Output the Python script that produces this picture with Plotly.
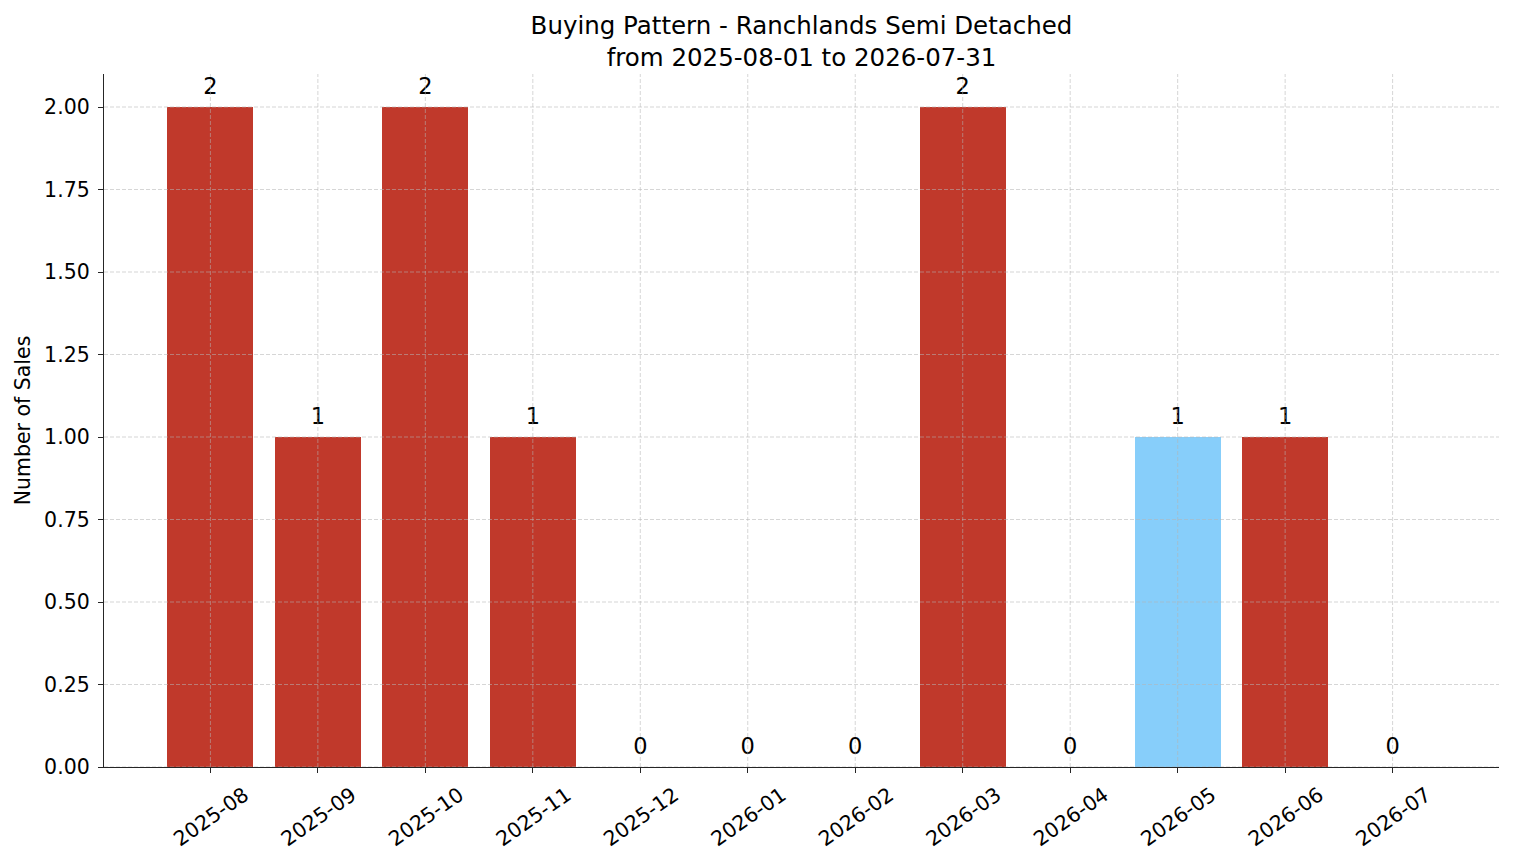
import plotly.graph_objects as go

# monthly sales data
months = ['2025-08', '2025-09', '2025-10', '2025-11', '2025-12', '2026-01',
          '2026-02', '2026-03', '2026-04', '2026-05', '2026-06', '2026-07']
sales = [2, 1, 2, 1, 0, 0, 0, 2, 0, 1, 1, 0]
highlight_month = '2026-05'
y_ticks = [0, 0.25, 0.5, 0.75, 1.0, 1.25, 1.5, 1.75, 2.0]

RED = '#c0392b'
BLUE = '#87cefa'
FONT = 'DejaVu Sans'

# Hide modebar
config = {'displayModeBar': False}

colors = [BLUE if m == highlight_month else RED for m in months]
idx = list(range(len(months)))

fig = go.Figure()
fig.add_trace(go.Bar(x=idx, y=sales, width=0.8, marker=dict(color=colors, line=dict(width=0)),
                     hoverinfo='x+y', showlegend=False))

# value labels above the bars (invisible marker gives the padding)
fig.add_trace(go.Scatter(x=idx, y=sales, mode='markers+text', text=[str(v) for v in sales],
                         marker=dict(size=10, opacity=0),
                         textposition='top center', textfont=dict(family=FONT, size=22.5, color='black'),
                         hoverinfo='skip', showlegend=False))

# dashed grid drawn on top of bars (like matplotlib)
grid = dict(color='rgba(180,180,180,0.55)', width=1, dash='4px,2px')
shapes = []
for i in idx:
    shapes.append(dict(type='line', xref='x', yref='paper', x0=i, x1=i, y0=0, y1=1,
                       line=grid, layer='above'))
for t in y_ticks:
    shapes.append(dict(type='line', xref='paper', yref='y', x0=0, x1=1, y0=t, y1=t,
                       line=grid, layer='above'))

fig.update_layout(
    width=1514, height=863,
    margin=dict(l=104, r=15, t=74, b=96),
    paper_bgcolor='white', plot_bgcolor='white',
    font=dict(family=FONT, size=20.5, color='black'),
    title=dict(text='Buying Pattern - Ranchlands Semi Detached<br>from 2025-08-01 to 2026-07-31',
               x=(104 + 1499) / 2 / 1514, xanchor='center', y=0.961, yanchor='top',
               font=dict(family=FONT, size=24.5, color='black')),
    shapes=shapes,
    bargap=0,
)

fig.update_xaxes(
    range=[-0.99, 11.99], tickmode='array', tickvals=idx, ticktext=months,
    tickangle=-35, ticks='outside', ticklen=5, tickwidth=1.2, tickcolor='#262626',
    showline=True, linecolor='#262626', linewidth=1.3, showgrid=False, zeroline=False,
    ticklabelshift=34, ticklabelstandoff=2,
    tickfont=dict(family=FONT, size=20.5, color='black'),
)
fig.update_yaxes(
    range=[0, 2.1], tickmode='array', tickvals=y_ticks,
    ticktext=['%.2f' % t for t in y_ticks],
    ticks='outside', ticklen=5, tickwidth=1.2, tickcolor='#262626',
    showline=True, linecolor='#262626', linewidth=1.3, showgrid=False, zeroline=False,
    ticklabelstandoff=4,
    title=dict(text='Number of Sales', font=dict(family=FONT, size=20.5, color='black'), standoff=7),
    tickfont=dict(family=FONT, size=20.5, color='black'),
)

fig.write_html('out.html', config=config, post_script="document.body.style.margin='0';")
